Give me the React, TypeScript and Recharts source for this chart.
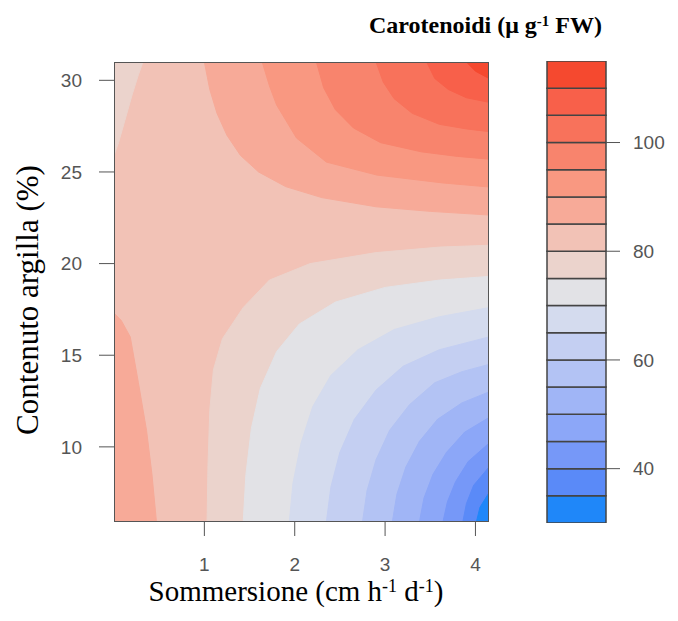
import { ComposedChart, Area, XAxis, YAxis, CartesianGrid, BarChart, Bar } from 'recharts'

// band lower bounds (each band is 5 units wide) and their fill colours
const bandLevels = [30, 35, 40, 45, 50, 55, 60, 65, 70, 75, 80, 85, 90, 95, 100, 105, 110]
const bandColors = [
  '#1f87f9', '#5a8af8', '#7698f8', '#8ca7f8', '#a0b5f6', '#b3c3f4', '#c4cff2', '#d4dbee',
  '#e2e2e6', '#ebd3cc', '#f2c2b6', '#f7aa98', '#f99881', '#f8846d', '#f8725b', '#f8604a', '#f5492f',
]
const colorbarTicks = [40, 60, 80, 100]
const xTicks = [1, 2, 3, 4]
const yTicks = [10, 15, 20, 25, 30]
const xDomain = [0, 4.15]
const yDomain = [5.9, 31]
const baseBand = 80 // colour of the large central region

// contour lines: [sommersione, contenuto argilla]
const topLeft80 = [[0, 25.9], [0.05, 26.6], [0.12, 27.8], [0.2, 29.2], [0.27, 30.3], [0.32, 31]]
const top85 = [[1.0, 31], [1.06, 29.5], [1.14, 28.2], [1.25, 27.0], [1.4, 25.9], [1.6, 25.0], [1.9, 24.2], [2.3, 23.6], [2.9, 23.1], [3.5, 22.85], [4.15, 22.65]]
const top90 = [[1.64, 31], [1.72, 29.7], [1.8, 28.65], [2.02, 26.85], [2.35, 25.54], [2.91, 24.83], [3.64, 24.4], [4.15, 24.18]]
const top95 = [[2.24, 31], [2.32, 29.6], [2.45, 28.4], [2.65, 27.4], [2.95, 26.6], [3.4, 26.1], [3.8, 25.85], [4.15, 25.7]]
const top100 = [[2.9, 31], [2.98, 29.9], [3.1, 29.0], [3.3, 28.2], [3.6, 27.6], [3.9, 27.35], [4.15, 27.2]]
const top105 = [[3.46, 31], [3.55, 30.1], [3.7, 29.5], [3.9, 29.05], [4.15, 28.8]]
const top110 = [[3.9, 31], [4.0, 30.5], [4.15, 30.1]]
const bottomLeft85 = [[0, 17.3], [0.08, 16.9], [0.18, 16.0], [0.27, 13.5], [0.36, 10.9], [0.42, 8.5], [0.47, 5.9]]
const bottom80 = [[1.03, 5.9], [1.04, 9], [1.06, 12], [1.1, 14.2], [1.2, 15.9], [1.43, 17.6], [1.72, 19.1], [2.17, 20.0], [2.9, 20.6], [3.6, 20.9], [4.15, 21.0]]
const bottom75 = [[1.43, 5.9], [1.46, 8.5], [1.52, 11], [1.62, 13.2], [1.8, 15.2], [2.05, 16.7], [2.45, 17.9], [3.0, 18.7], [3.6, 19.1], [4.15, 19.3]]
const bottom70 = [[1.94, 5.9], [1.98, 8], [2.07, 10.2], [2.2, 12.2], [2.4, 13.9], [2.7, 15.3], [3.1, 16.4], [3.6, 17.1], [4.15, 17.6]]
const bottom65 = [[2.35, 5.9], [2.4, 7.8], [2.5, 9.7], [2.66, 11.5], [2.9, 13.1], [3.2, 14.4], [3.6, 15.3], [4.15, 16.0]]
const bottom60 = [[2.75, 5.9], [2.8, 7.6], [2.9, 9.3], [3.05, 10.9], [3.27, 12.3], [3.55, 13.5], [3.85, 14.1], [4.15, 14.5]]
const bottom55 = [[3.08, 5.9], [3.13, 7.4], [3.23, 8.9], [3.38, 10.3], [3.58, 11.5], [3.85, 12.4], [4.15, 13.0]]
const bottom50 = [[3.38, 5.9], [3.43, 7.2], [3.53, 8.5], [3.68, 9.7], [3.88, 10.8], [4.15, 11.6]]
const bottom45 = [[3.64, 5.9], [3.69, 7.0], [3.78, 8.1], [3.92, 9.2], [4.15, 10.2]]
const bottom40 = [[3.86, 5.9], [3.9, 6.9], [3.98, 7.9], [4.15, 8.9]]
const bottom35 = [[4.01, 5.9], [4.05, 6.7], [4.15, 7.5]]

// which band lies beyond each line, and on which side; drawn in this order
const contours: { line: number[][]; band: number; side: 'above' | 'below' }[] = [
  { line: topLeft80, band: 75, side: 'above' },
  { line: top85, band: 85, side: 'above' },
  { line: top90, band: 90, side: 'above' },
  { line: top95, band: 95, side: 'above' },
  { line: top100, band: 100, side: 'above' },
  { line: top105, band: 105, side: 'above' },
  { line: top110, band: 110, side: 'above' },
  { line: bottomLeft85, band: 85, side: 'below' },
  { line: bottom80, band: 75, side: 'below' },
  { line: bottom75, band: 70, side: 'below' },
  { line: bottom70, band: 65, side: 'below' },
  { line: bottom65, band: 60, side: 'below' },
  { line: bottom60, band: 55, side: 'below' },
  { line: bottom55, band: 50, side: 'below' },
  { line: bottom50, band: 45, side: 'below' },
  { line: bottom45, band: 40, side: 'below' },
  { line: bottom40, band: 35, side: 'below' },
  { line: bottom35, band: 30, side: 'below' },
]

const colorOf = (band: number) => bandColors[bandLevels.indexOf(band)]
const bandStep = bandLevels[1] - bandLevels[0]
const colorbarRow: Record<string, number | string> = { name: 'bar', base: bandLevels[0] }
bandLevels.forEach(l => { colorbarRow['b' + l] = bandStep })

const tickStyle = { fontSize: 19, fill: '#555', fontFamily: 'Liberation Sans, Arial, sans-serif' }
const serif = 'Liberation Serif, Times New Roman, serif'
const supStyle = { fontSize: '0.62em', position: 'relative' as const, top: '-0.5em', lineHeight: 0 }

export default function App() {
  return (
    <div style={{ position: 'absolute', left: 0, top: 0, width: 678, height: 621, background: '#fff', overflow: 'hidden' }}>
      <div style={{ position: 'absolute', left: 0, top: 0 }}>
        <ComposedChart width={500} height={621} margin={{ top: 62, right: 11, bottom: 59, left: 54 }}>
          <CartesianGrid horizontal={false} vertical={false} fill={colorOf(baseBand)} />
          <XAxis
            dataKey="x"
            type="number"
            domain={xDomain}
            allowDataOverflow
            ticks={xTicks}
            height={40}
            tick={tickStyle}
            tickSize={14}
            tickMargin={22}
            axisLine={false}
            tickLine={{ stroke: '#555' }}
          />
          <YAxis
            type="number"
            domain={yDomain}
            allowDataOverflow
            ticks={yTicks}
            width={60}
            tick={tickStyle}
            tickSize={15}
            tickMargin={17}
            axisLine={false}
            tickLine={{ stroke: '#555' }}
          />
          {contours.map((c, i) => (
            <Area
              key={i}
              data={c.line.map(([x, y]) => ({ x, y }))}
              dataKey="y"
              type="linear"
              baseValue={c.side === 'above' ? yDomain[1] : yDomain[0]}
              fill={colorOf(c.band)}
              fillOpacity={1}
              stroke={colorOf(c.band)}
              strokeWidth={1}
              dot={false}
              activeDot={false}
              isAnimationActive={false}
            />
          ))}
        </ComposedChart>
      </div>
      <div style={{ position: 'absolute', left: 114, top: 62, width: 375, height: 460, border: '1px solid #555', boxSizing: 'border-box', pointerEvents: 'none' }} />

      <div style={{ position: 'absolute', left: 500, top: 0 }}>
        <BarChart width={178} height={621} data={[colorbarRow]} margin={{ top: 61, right: 2, bottom: 98, left: 47 }} barCategoryGap={0} barGap={0}>
          <XAxis dataKey="name" hide />
          <YAxis
            orientation="right"
            type="number"
            domain={[bandLevels[0], bandLevels[bandLevels.length - 1] + bandStep]}
            allowDataOverflow
            ticks={colorbarTicks}
            width={70}
            tick={tickStyle}
            tickSize={14}
            tickMargin={13}
            axisLine={false}
            tickLine={{ stroke: '#555' }}
          />
          <Bar dataKey="base" stackId="cb" fill="none" stroke="none" isAnimationActive={false} />
          {bandLevels.map((l, i) => (
            <Bar key={l} dataKey={'b' + l} stackId="cb" fill={bandColors[i]} stroke="#444" strokeWidth={1.5} isAnimationActive={false} />
          ))}
        </BarChart>
      </div>

      <div style={{ position: 'absolute', left: 369, top: 12, fontFamily: serif, fontWeight: 'bold', fontSize: 24, whiteSpace: 'nowrap', color: '#000' }}>
        Carotenoidi (μ g<span style={supStyle}>-1</span> FW)
      </div>
      <div style={{ position: 'absolute', left: 96, width: 400, top: 575, textAlign: 'center', fontFamily: serif, fontSize: 29, whiteSpace: 'nowrap', color: '#000' }}>
        Sommersione (cm h<span style={supStyle}>-1</span> d<span style={supStyle}>-1</span>)
      </div>
      <div style={{ position: 'absolute', left: 28, top: 300, width: 0, height: 0 }}>
        <div style={{ position: 'absolute', left: 0, top: 0, transform: 'translate(-50%, -50%) rotate(-90deg)', fontFamily: serif, fontSize: 31, whiteSpace: 'nowrap', color: '#000' }}>
          Contenuto argilla (%)
        </div>
      </div>
    </div>
  )
}
